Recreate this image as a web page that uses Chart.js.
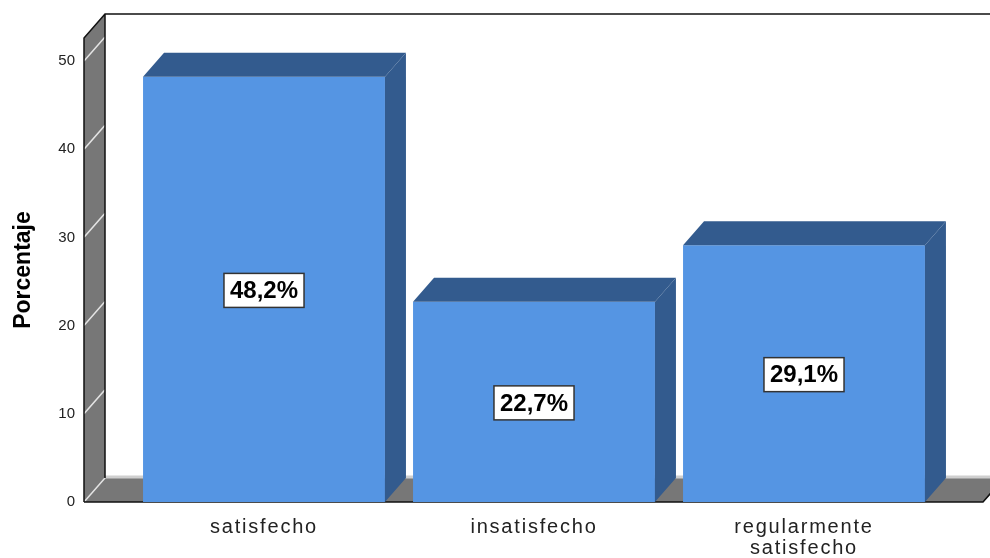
<!DOCTYPE html>
<html>
<head>
<meta charset="utf-8">
<script src="https://cdn.jsdelivr.net/npm/chart.js@4/dist/chart.umd.min.js"></script>
<style>
  body { margin: 0; background: #fff; }
  #wrap { width: 990px; height: 558px; }
</style>
</head>
<body>
<div id="wrap"><canvas id="barChart"></canvas></div>
<script>
// Data
const categorias = ['satisfecho', 'insatisfecho', ['regularmente', 'satisfecho']];
const porcentajes = [48.2, 22.7, 29.1];
const etiquetas = ['48,2%', '22,7%', '29,1%'];
const yTicks = [0, 10, 20, 30, 40, 50];

const DX = 21, DY = -24; // 3D depth offset
const FRONT = '#5595e3', DARK = '#335b8e', WALL = '#777777';

// Draws the SPSS-like walls, floor and the 3D faces of the bars
const threeD = {
  id: 'threeD',
  afterLayout(chart) {
    // wider letter spacing on the category labels, like the SPSS output
    const xs = chart.scales.x;
    if (!xs._spaced) {
      const orig = xs.drawLabels.bind(xs);
      xs.drawLabels = area => {
        chart.ctx.save();
        chart.ctx.letterSpacing = '1.8px';
        orig(area);
        chart.ctx.restore();
      };
      xs._spaced = true;
    }
  },
  beforeDatasetsDraw(chart) {
    const ctx = chart.ctx, y = chart.scales.y, a = chart.chartArea;
    const fx = a.left - 45, top = a.top, bot = a.bottom;
    ctx.save();
    // left wall
    ctx.fillStyle = WALL;
    ctx.beginPath();
    ctx.moveTo(fx, top); ctx.lineTo(fx + DX, top + DY);
    ctx.lineTo(fx + DX, bot + DY); ctx.lineTo(fx, bot);
    ctx.closePath(); ctx.fill();
    // floor
    ctx.beginPath();
    ctx.moveTo(fx, bot); ctx.lineTo(fx + DX, bot + DY);
    ctx.lineTo(1004, bot + DY); ctx.lineTo(1004 - DX, bot);
    ctx.closePath(); ctx.fill();
    // light edge at the back of the floor
    ctx.strokeStyle = '#cfcfcf'; ctx.lineWidth = 3;
    ctx.beginPath(); ctx.moveTo(fx + DX, bot + DY - 1); ctx.lineTo(1000, bot + DY - 1); ctx.stroke();
    // tick lines on the wall
    ctx.strokeStyle = '#e4e4e4'; ctx.lineWidth = 1.5;
    yTicks.forEach(v => {
      const py = y.getPixelForValue(v);
      ctx.beginPath(); ctx.moveTo(fx, py); ctx.lineTo(fx + DX, py + DY); ctx.stroke();
    });
    // black outlines
    ctx.strokeStyle = '#111'; ctx.lineWidth = 1.5;
    ctx.beginPath();
    ctx.moveTo(fx, bot); ctx.lineTo(fx, top); ctx.lineTo(fx + DX, top + DY); ctx.lineTo(1000, top + DY);
    ctx.moveTo(fx + DX, top + DY); ctx.lineTo(fx + DX, bot + DY);
    ctx.moveTo(fx, bot); ctx.lineTo(1004 - DX, bot); ctx.lineTo(1004, bot + DY);
    ctx.stroke();
    ctx.restore();
  },
  afterDatasetsDraw(chart) {
    const ctx = chart.ctx;
    const meta = chart.getDatasetMeta(0);
    ctx.save();
    meta.data.forEach((bar, i) => {
      const l = bar.x - bar.width / 2, r = bar.x + bar.width / 2;
      ctx.fillStyle = DARK;
      // top face
      ctx.beginPath();
      ctx.moveTo(l, bar.y); ctx.lineTo(l + DX, bar.y + DY);
      ctx.lineTo(r + DX, bar.y + DY); ctx.lineTo(r, bar.y);
      ctx.closePath(); ctx.fill();
      // side face
      ctx.beginPath();
      ctx.moveTo(r, bar.y); ctx.lineTo(r + DX, bar.y + DY);
      ctx.lineTo(r + DX, bar.base + DY); ctx.lineTo(r, bar.base);
      ctx.closePath(); ctx.fill();
      // value label box
      ctx.font = 'bold 24px "Liberation Sans", Arial, sans-serif';
      const tw = ctx.measureText(etiquetas[i]).width;
      const cy = (bar.y + bar.base) / 2 + 1;
      const bw = tw + 12, bh = 34;
      ctx.fillStyle = '#fff';
      ctx.fillRect(bar.x - bw / 2, cy - bh / 2, bw, bh);
      ctx.strokeStyle = '#333'; ctx.lineWidth = 1.5;
      ctx.strokeRect(bar.x - bw / 2, cy - bh / 2, bw, bh);
      ctx.fillStyle = '#000';
      ctx.textAlign = 'center'; ctx.textBaseline = 'middle';
      ctx.fillText(etiquetas[i], bar.x, cy + 1);
    });
    ctx.restore();
  }
};

const ctx = document.getElementById('barChart').getContext('2d');
new Chart(ctx, {
  type: 'bar',
  data: {
    labels: categorias,
    datasets: [{
      data: porcentajes,
      backgroundColor: FRONT,
      borderWidth: 0,
      categoryPercentage: 1,
      barPercentage: 0.896
    }]
  },
  options: {
    responsive: true,
    maintainAspectRatio: false,
    animation: false,
    layout: { padding: { top: 38, right: 51, left: 0, bottom: 0 } },
    plugins: { legend: { display: false }, tooltip: { enabled: false } },
    scales: {
      x: {
        grid: { display: false, drawTicks: false },
        border: { display: false },
        ticks: {
          color: '#222',
          padding: 15,
          maxRotation: 0,
          font: { family: '"Liberation Sans", Arial, sans-serif', size: 20, lineHeight: 1.05 }
        },
        afterFit: s => { s.height = 56; }
      },
      y: {
        min: 0,
        max: 52.6,
        grid: { display: false, drawTicks: false },
        border: { display: false },
        afterBuildTicks: s => { s.ticks = yTicks.map(v => ({ value: v })); },
        ticks: {
          color: '#222',
          padding: 54,
          font: { family: '"Liberation Sans", Arial, sans-serif', size: 15 }
        },
        title: {
          display: true,
          text: 'Porcentaje',
          color: '#000',
          padding: { top: 10, bottom: 0 },
          font: { family: '"Liberation Sans", Arial, sans-serif', size: 23, weight: 'bold' }
        },
        afterFit: s => { s.width = 129; s.paddingTop = 0; s.paddingBottom = 0; }
      }
    }
  },
  plugins: [threeD]
});
</script>
</body>
</html>
